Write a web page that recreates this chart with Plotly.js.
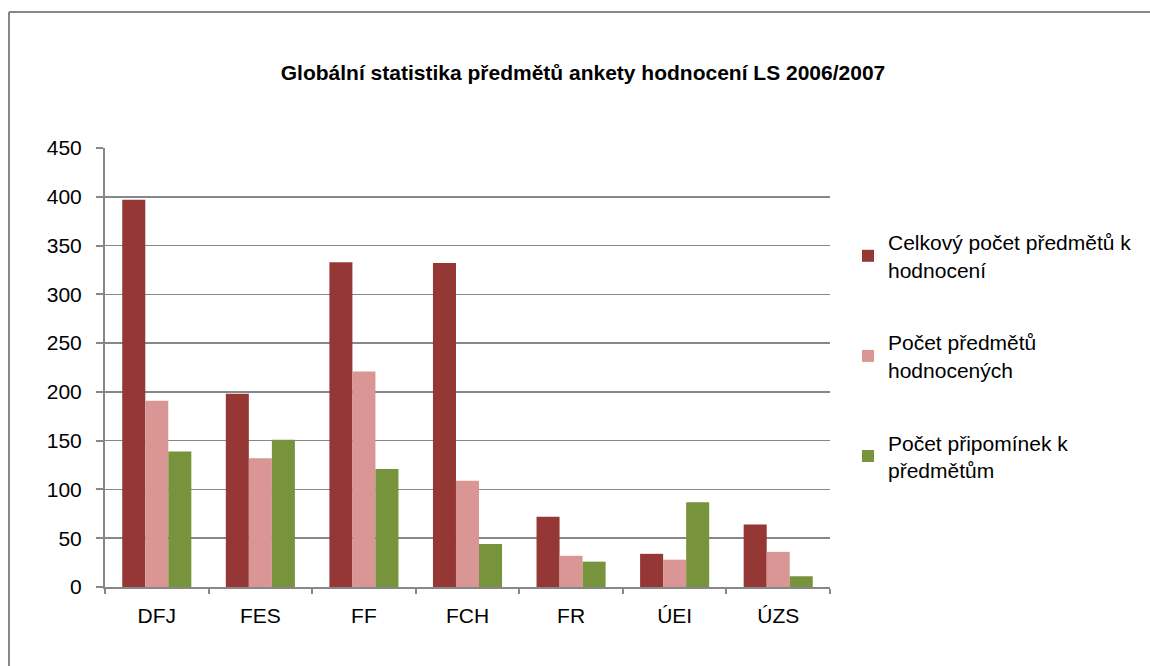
<!DOCTYPE html>
<html>
<head>
<meta charset="utf-8">
<script src="https://cdn.plot.ly/plotly-3.0.1.min.js"></script>
<style>html,body{margin:0;padding:0;background:#fff;overflow:hidden;}#chart{width:1150px;height:666px;}</style>
</head>
<body>
<div id="chart"></div>
<script>
const categories = ["DFJ", "FES", "FF", "FCH", "FR", "ÚEI", "ÚZS"];
const seriesNames = ["Celkový počet předmětů k<br>hodnocení", "Počet předmětů<br>hodnocených", "Počet připomínek k<br>předmětům"];
const celkovy = [397, 198, 333, 332, 72, 34, 64];
const hodnocenych = [191, 132, 221, 109, 32, 28, 36];
const pripominek = [139, 151, 121, 44, 26, 87, 11];
const colors = ["#953735", "#D99694", "#77933C"];
const yTicks = [0, 50, 100, 150, 200, 250, 300, 350, 400, 450];

const values = [celkovy, hodnocenych, pripominek];
const traces = values.map((v, i) => ({
  type: "bar",
  x: categories,
  y: v,
  name: seriesNames[i],
  legendgroup: "g" + i,
  marker: {color: colors[i], line: {width: 0}},
  hoverinfo: "x+y"
}));

const L = 105, R = 320, T = 148, B = 79, W = 1150, H = 666;
const pw = W - L - R, ph = H - T - B;
const px = x => (x - L) / pw;
const py = y => (H - B - y) / ph;

const layout = {
  width: W, height: H,
  margin: {l: L, r: R, t: T, b: B, pad: 0},
  paper_bgcolor: "#ffffff",
  plot_bgcolor: "#ffffff",
  font: {family: "Liberation Sans, Arial, sans-serif", size: 21, color: "#000000"},
  title: {
    text: "Globální statistika předmětů ankety hodnocení LS 2006/2007",
    font: {family: "Liberation Sans, Arial, sans-serif", size: 21, color: "#000000", weight: "bold"},
    x: 583 / W, xanchor: "center",
    y: 1 - 73 / H, yanchor: "middle"
  },
  barmode: "group",
  bargap: 0.333,
  bargroupgap: 0,
  showlegend: true,
  legend: {
    x: px(848), xanchor: "left",
    y: py(222), yanchor: "top",
    font: {size: 21, color: "#000000"},
    tracegroupgap: 42.5,
    itemwidth: 30,
    bgcolor: "rgba(0,0,0,0)"
  },
  xaxis: {
    type: "category",
    showgrid: false,
    showline: true, linecolor: "#878787", linewidth: 2,
    ticks: "outside", tickson: "boundaries", ticklen: 5, tickcolor: "#878787", tickwidth: 2,
    tickfont: {size: 21},
    ticklabelstandoff: 9,
    fixedrange: true
  },
  yaxis: {
    range: [0, 450],
    tickvals: yTicks,
    ticktext: yTicks.map(String),
    showgrid: true, gridcolor: "#878787", gridwidth: 1.5,
    showline: true, linecolor: "#878787", linewidth: 2,
    zeroline: false,
    ticks: "outside", ticklen: 7, tickcolor: "#878787", tickwidth: 2,
    tickfont: {size: 21},
    ticklabelstandoff: 10,
    fixedrange: true
  },
  shapes: [
    {type: "line", xref: "paper", yref: "paper",
     x0: px(9), x1: px(1150), y0: py(12), y1: py(12),
     line: {color: "#878787", width: 2}, layer: "below"},
    {type: "line", xref: "paper", yref: "paper",
     x0: px(9), x1: px(9), y0: py(12), y1: py(666),
     line: {color: "#878787", width: 2}, layer: "below"}
  ]
};

Plotly.newPlot("chart", traces, layout, {displayModeBar: false, staticPlot: true});
</script>
</body>
</html>
